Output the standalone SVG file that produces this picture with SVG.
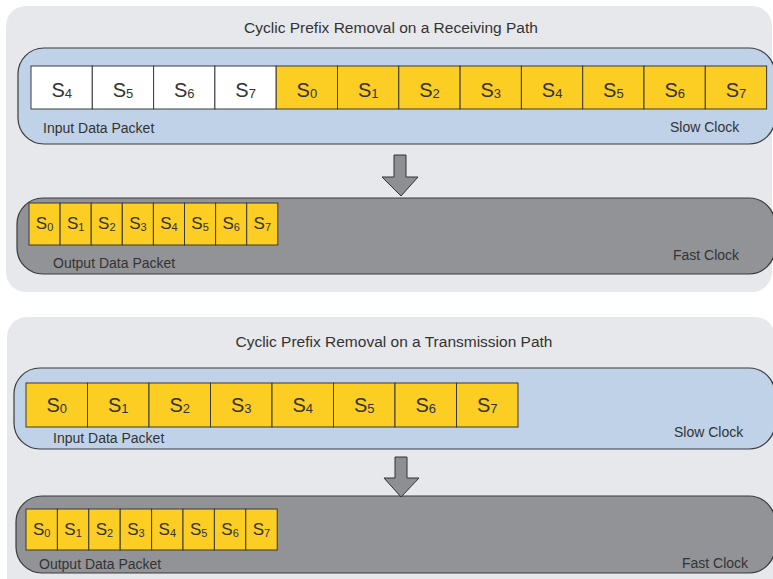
<svg xmlns="http://www.w3.org/2000/svg" width="773" height="579" viewBox="0 0 773 579">
<style>
text{font-family:"Liberation Sans",Arial,sans-serif;fill:#333}
.outer{fill:#e7e8ec}
.blue{fill:#c0d2e7;stroke:#3a3a3a;stroke-width:1.2}
.gray{fill:#929397;stroke:#3a3a3a;stroke-width:1.2}
.y{fill:#fccd22;stroke:#3a3a3a;stroke-width:1}
.w{fill:#ffffff;stroke:#3a3a3a;stroke-width:1}
.title{font-size:15.5px;text-anchor:middle}
.lbl{font-size:14px}
.big{font-size:20px;text-anchor:middle}
.big tspan{font-size:13px}
.sm{font-size:17px;text-anchor:middle}
.sm tspan{font-size:11px}
.arrow{fill:#8e8f93;stroke:#333;stroke-width:1}
</style>
<g id="panel-rx">
<rect class="outer" x="6" y="6" width="766" height="286" rx="20"/>
<text class="title" x="391" y="33">Cyclic Prefix Removal on a Receiving Path</text>
</g>
<g id="rx-input">
<rect class="blue" x="18" y="48" width="757" height="96" rx="26"/>
<rect class="w" x="31" y="66" width="61.3" height="43"/>
<rect class="w" x="92.3" y="66" width="61.3" height="43"/>
<rect class="w" x="153.6" y="66" width="61.3" height="43"/>
<rect class="w" x="214.9" y="66" width="61.3" height="43"/>
<rect class="y" x="276.2" y="66" width="61.3" height="43"/>
<rect class="y" x="337.5" y="66" width="61.3" height="43"/>
<rect class="y" x="398.8" y="66" width="61.3" height="43"/>
<rect class="y" x="460.1" y="66" width="61.3" height="43"/>
<rect class="y" x="521.4" y="66" width="61.3" height="43"/>
<rect class="y" x="582.7" y="66" width="61.3" height="43"/>
<rect class="y" x="644" y="66" width="61.3" height="43"/>
<rect class="y" x="705.3" y="66" width="61.3" height="43"/>
<text class="big" x="61.7" y="97">S<tspan dy="1">4</tspan></text>
<text class="big" x="123" y="97">S<tspan dy="1">5</tspan></text>
<text class="big" x="184.3" y="97">S<tspan dy="1">6</tspan></text>
<text class="big" x="245.6" y="97">S<tspan dy="1">7</tspan></text>
<text class="big" x="306.9" y="97">S<tspan dy="1">0</tspan></text>
<text class="big" x="368.2" y="97">S<tspan dy="1">1</tspan></text>
<text class="big" x="429.5" y="97">S<tspan dy="1">2</tspan></text>
<text class="big" x="490.8" y="97">S<tspan dy="1">3</tspan></text>
<text class="big" x="552.1" y="97">S<tspan dy="1">4</tspan></text>
<text class="big" x="613.4" y="97">S<tspan dy="1">5</tspan></text>
<text class="big" x="674.7" y="97">S<tspan dy="1">6</tspan></text>
<text class="big" x="736" y="97">S<tspan dy="1">7</tspan></text>
<text class="lbl" x="43" y="133">Input Data Packet</text>
<text class="lbl" x="670" y="132">Slow Clock</text>
</g>
<g id="rx-output">
<rect class="gray" x="17" y="198" width="758" height="76" rx="26"/>
<rect class="y" x="29" y="203" width="31.1" height="42"/>
<rect class="y" x="60.1" y="203" width="31.1" height="42"/>
<rect class="y" x="91.2" y="203" width="31.1" height="42"/>
<rect class="y" x="122.3" y="203" width="31.1" height="42"/>
<rect class="y" x="153.4" y="203" width="31.1" height="42"/>
<rect class="y" x="184.5" y="203" width="31.1" height="42"/>
<rect class="y" x="215.6" y="203" width="31.1" height="42"/>
<rect class="y" x="246.7" y="203" width="31.1" height="42"/>
<text class="sm" x="44.6" y="229">S<tspan dy="1.5">0</tspan></text>
<text class="sm" x="75.7" y="229">S<tspan dy="1.5">1</tspan></text>
<text class="sm" x="106.8" y="229">S<tspan dy="1.5">2</tspan></text>
<text class="sm" x="137.9" y="229">S<tspan dy="1.5">3</tspan></text>
<text class="sm" x="169" y="229">S<tspan dy="1.5">4</tspan></text>
<text class="sm" x="200.1" y="229">S<tspan dy="1.5">5</tspan></text>
<text class="sm" x="231.2" y="229">S<tspan dy="1.5">6</tspan></text>
<text class="sm" x="262.3" y="229">S<tspan dy="1.5">7</tspan></text>
<text class="lbl" x="53" y="268">Output Data Packet</text>
<text class="lbl" x="673" y="260">Fast Clock</text>
</g>
<g id="panel-tx">
<rect class="outer" x="7" y="317" width="768" height="280" rx="20"/>
<text class="title" x="394" y="347">Cyclic Prefix Removal on a Transmission Path</text>
</g>
<g id="tx-input">
<rect class="blue" x="14" y="368" width="761" height="81" rx="26"/>
<rect class="y" x="26" y="383" width="61.5" height="44"/>
<rect class="y" x="87.5" y="383" width="61.5" height="44"/>
<rect class="y" x="149" y="383" width="61.5" height="44"/>
<rect class="y" x="210.5" y="383" width="61.5" height="44"/>
<rect class="y" x="272" y="383" width="61.5" height="44"/>
<rect class="y" x="333.5" y="383" width="61.5" height="44"/>
<rect class="y" x="395" y="383" width="61.5" height="44"/>
<rect class="y" x="456.5" y="383" width="61.5" height="44"/>
<text class="big" x="56.8" y="412">S<tspan dy="1">0</tspan></text>
<text class="big" x="118.3" y="412">S<tspan dy="1">1</tspan></text>
<text class="big" x="179.8" y="412">S<tspan dy="1">2</tspan></text>
<text class="big" x="241.3" y="412">S<tspan dy="1">3</tspan></text>
<text class="big" x="302.8" y="412">S<tspan dy="1">4</tspan></text>
<text class="big" x="364.3" y="412">S<tspan dy="1">5</tspan></text>
<text class="big" x="425.8" y="412">S<tspan dy="1">6</tspan></text>
<text class="big" x="487.3" y="412">S<tspan dy="1">7</tspan></text>
<text class="lbl" x="53" y="443">Input Data Packet</text>
<text class="lbl" x="674" y="437">Slow Clock</text>
</g>
<g id="tx-output">
<rect class="gray" x="16" y="496" width="759" height="77" rx="26"/>
<rect class="y" x="26" y="509" width="31.4" height="41"/>
<rect class="y" x="57.4" y="509" width="31.4" height="41"/>
<rect class="y" x="88.8" y="509" width="31.4" height="41"/>
<rect class="y" x="120.2" y="509" width="31.4" height="41"/>
<rect class="y" x="151.6" y="509" width="31.4" height="41"/>
<rect class="y" x="183" y="509" width="31.4" height="41"/>
<rect class="y" x="214.4" y="509" width="31.4" height="41"/>
<rect class="y" x="245.8" y="509" width="31.4" height="41"/>
<text class="sm" x="41.7" y="535">S<tspan dy="1.5">0</tspan></text>
<text class="sm" x="73.1" y="535">S<tspan dy="1.5">1</tspan></text>
<text class="sm" x="104.5" y="535">S<tspan dy="1.5">2</tspan></text>
<text class="sm" x="135.9" y="535">S<tspan dy="1.5">3</tspan></text>
<text class="sm" x="167.3" y="535">S<tspan dy="1.5">4</tspan></text>
<text class="sm" x="198.7" y="535">S<tspan dy="1.5">5</tspan></text>
<text class="sm" x="230.1" y="535">S<tspan dy="1.5">6</tspan></text>
<text class="sm" x="261.5" y="535">S<tspan dy="1.5">7</tspan></text>
<text class="lbl" x="39" y="569">Output Data Packet</text>
<text class="lbl" x="682" y="568">Fast Clock</text>
</g>
<g id="connectors">
<path class="arrow" d="M394,155 H406 V177 H418 L401,196 L382,177 H394 Z"/>
<path class="arrow" d="M395,457 H407 V478 H419 L401,497 L384,478 H395 Z"/>
</g>
</svg>
